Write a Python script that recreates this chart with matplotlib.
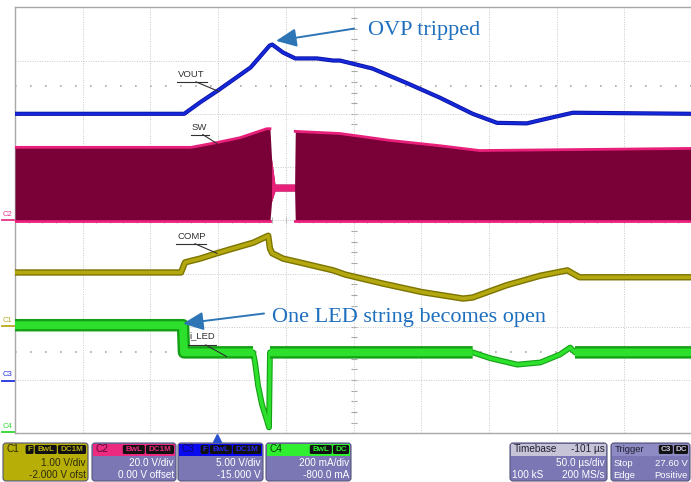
import numpy as np
import matplotlib
matplotlib.use("Agg")
import matplotlib.pyplot as plt
from matplotlib.patches import FancyBboxPatch, Rectangle

# 横軸: 時間 (µs, 50 µs/div x 10 div), 縦軸: 画面の div (0 = 下端, 8 = 上端)
T_MAX = 500
Y_DIVS = 8

# VOUT (C3)
vout_t = [0, 125, 137, 150, 174, 188, 190, 198, 207, 223, 235, 240, 264, 290, 314, 338, 356, 378, 393, 412, 500]
vout_v = [6.00, 6.00, 6.22, 6.44, 6.87, 7.28, 7.30, 7.15, 7.04, 7.04, 7.00, 7.00, 6.85, 6.57, 6.30, 6.00, 5.83, 5.82, 5.91, 6.02, 6.00]

# SW (C2) - スイッチング波形の包絡線
sw_t = [0, 130, 149, 166, 186, 188.3, 189.5, 192, 206.5, 207, 240, 277, 314, 343, 500]
sw_hi = [5.37, 5.37, 5.46, 5.55, 5.72, 5.72, 5.15, 4.68, 4.68, 5.67, 5.63, 5.50, 5.40, 5.31, 5.35]
sw_lo = [3.98, 3.98, 3.98, 3.98, 3.98, 3.98, 4.35, 4.55, 4.55, 3.98, 3.98, 3.98, 3.98, 3.98, 3.98]

# COMP (C1)
comp_t = [0, 122.6, 125.6, 136.6, 149, 161, 176, 187, 188.3, 190, 198, 210, 235, 244, 272, 301, 331, 338, 363, 388, 408, 412, 417, 500]
comp_v = [3.02, 3.02, 3.21, 3.28, 3.38, 3.47, 3.58, 3.71, 3.47, 3.38, 3.28, 3.21, 3.06, 2.98, 2.81, 2.65, 2.53, 2.55, 2.78, 2.96, 3.06, 3.00, 2.93, 2.93]

# i_LED (C4)
iled_t = [0, 124.1, 124.8, 175.8, 177.3, 179.5, 182.4, 186.1, 187.6, 188.3, 338, 351, 371, 388, 402.5, 410, 413.6, 500]
iled_v = [2.03, 2.03, 1.52, 1.52, 1.33, 0.90, 0.54, 0.24, 0.11, 1.52, 1.52, 1.41, 1.29, 1.33, 1.48, 1.61, 1.52, 1.52]

# 波形ラベル: (文字, テキスト位置, 引出線の終点)
trace_labels = [
    ("VOUT", (120.4, 6.74), (150.5, 6.42)),
    ("SW", (130.7, 5.75), (149.2, 5.44)),
    ("COMP", (119.7, 3.70), (149.2, 3.38)),
    ("i_LED", (128.5, 1.84), (156.4, 1.44)),
]

BLUE = "#1428d8"
SW_FILL = "#7a0038"
SW_EDGE = "#e8207a"
OLIVE = "#b4a810"
OLIVE_D = "#7c7400"
GREEN = "#2ee02e"
GREEN_D = "#14a014"
NOTE = "#1f6fbf"
ARROW = "#2e75b6"
GRID = "#c8c8c8"
LAVENDER = "#7b77b5"

fig = plt.figure(figsize=(6.91, 4.82), dpi=100)
fig.patch.set_facecolor("white")

ax = fig.add_axes([15 / 691, (482 - 433.3) / 482, 677 / 691, 426 / 482])
ax.set_xlim(0, T_MAX)
ax.set_ylim(0, Y_DIVS)
ax.set_xticks(np.arange(0, T_MAX + 1, 50))
ax.set_yticks(np.arange(0, Y_DIVS + 1, 1))
ax.tick_params(length=0, labelbottom=False, labelleft=False)
ax.grid(color=GRID, lw=0.7, ls=(0, (1, 1.5)))
for s in ax.spines.values():
    s.set_color("#a8a8a8")
    s.set_linewidth(1.0)

# 中心線の目盛り
ax.plot(np.full(41, 250), np.linspace(0, 8, 41), ls="none", marker="_", ms=5,
        mew=0.8, color="#a8a8a8", zorder=1)
ax.plot(np.arange(0, 501, 10), np.full(51, 4.0), ls="none", marker="|", ms=4,
        mew=0.8, color="#b8b8b8", zorder=1)
# トリガレベルなどの点線
ax.axhline(6.52, ls=(0, (1, 8)), lw=1.2, color="#a8a8a8", zorder=1)
ax.axhline(1.52, ls=(0, (1, 8)), lw=1.2, color="#a8a8a8", zorder=1)

# SW
sw_t_a = np.array(sw_t)
narrow = (sw_t_a >= 189.5) & (sw_t_a <= 206.5)
ax.fill_between(sw_t, sw_lo, sw_hi, color=SW_FILL, lw=0, zorder=3)
ax.fill_between(sw_t, sw_lo, sw_hi, where=narrow, color=SW_EDGE, lw=0, zorder=3)
left = sw_t_a <= 188.3
right = sw_t_a >= 207
for part in (left, right):
    ax.plot(sw_t_a[part], np.array(sw_hi)[part], color=SW_EDGE, lw=2.0, zorder=4)
    ax.plot(sw_t_a[part], np.array(sw_lo)[part], color=SW_EDGE, lw=2.0, zorder=4)

# VOUT
ax.plot(vout_t, vout_v, color="#0a10a0", lw=3.0, zorder=5)
ax.plot(vout_t, vout_v, color=BLUE, lw=1.9, zorder=5)

# COMP
ax.plot(comp_t, comp_v, color=OLIVE_D, lw=4.6, zorder=5)
ax.plot(comp_t, comp_v, color=OLIVE, lw=2.6, zorder=5)

# i_LED (ノイズのある区間は太く)
iled_t_a = np.array(iled_t)
iled_v_a = np.array(iled_v)
noisy = (iled_t_a <= 175.8) | ((iled_t_a >= 188.3) & (iled_t_a <= 338)) | (iled_t_a >= 413.6)
ax.plot(iled_t, iled_v, color=GREEN_D, lw=4.2, zorder=5)
ax.plot(iled_t, iled_v, color=GREEN, lw=2.6, zorder=5)
noisy_v = np.where(noisy, iled_v_a, np.nan)
ax.plot(iled_t, noisy_v, color=GREEN_D, lw=9.0, zorder=5, solid_capstyle="butt")
ax.plot(iled_t, noisy_v, color=GREEN, lw=5.6, zorder=5, solid_capstyle="butt")

# 波形ラベル
label_w = {"VOUT": 21.4, "SW": 12.9, "COMP": 21.3, "i_LED": 20.0}
for name, (tx, ty), (ex, ey) in trace_labels:
    ax.text(tx, ty, name, fontsize=6.8, family="Liberation Sans",
            color="#303030", va="center", ha="left", zorder=8)
    w = label_w[name]
    uy = ty - (0.18 if "_" in name else 0.14)
    ax.plot([tx - 1, tx + w], [uy, uy], color="#303030", lw=0.8, zorder=6)
    ax.plot([tx + w * 0.62, ex], [uy, ey], color="#303030", lw=0.8, zorder=6)

# 注記
arrow_kw = dict(arrowstyle="-|>,head_length=0.62,head_width=0.28",
                mutation_scale=20, color=ARROW, lw=1.4, shrinkA=0, shrinkB=0)
ax.annotate("", xy=(192.8, 7.37), xytext=(250.5, 7.60), arrowprops=arrow_kw, zorder=7)
ax.text(260.5, 7.56, "OVP tripped", family="Liberation Serif", fontsize=16,
        color=NOTE, va="center", ha="left", zorder=7)
ax.annotate("", xy=(124.1, 2.06), xytext=(183.9, 2.25), arrowprops=arrow_kw, zorder=7)
ax.text(189.8, 2.17, "One LED string becomes open", family="Liberation Serif",
        fontsize=16, color=NOTE, va="center", ha="left", zorder=7)

# ---- 画面下部の UI (ピクセル座標) ----
ui = fig.add_axes([0, 0, 1, 1])
ui.set_xlim(0, 691)
ui.set_ylim(482, 0)
ui.axis("off")
ui.patch.set_alpha(0)
ui.set_zorder(3)

# 左端のチャンネルマーカー
for name, y, col in [("C2", 220, "#e8308a"), ("C1", 326, "#b8a820"),
                     ("C3", 381, "#2030e0"), ("C4", 432, "#30d830")]:
    ui.text(3, y - 2.5, name, fontsize=5.5, family="Liberation Sans",
            color=col, va="bottom", ha="left")
    ui.plot([2, 14], [y, y], color=col, lw=1.3)

# トリガ位置マーカー
ui.plot([217], [437.5], marker="^", ms=5.5, color="#2850d0", ls="none")

FONT = "Liberation Sans"


def scope_box(x0, x1, body, header, title, title_color, chips, chip_text,
              rows, row_color, right_title=None, left_rows=(), size=7.2):
    y0, y1, yh = 443, 481, 455.5
    ui.add_patch(FancyBboxPatch((x0, y0), x1 - x0, y1 - y0,
                                boxstyle="round,pad=0,rounding_size=3",
                                fc=body, ec="#55557a", lw=0.8))
    if header is not None:
        ui.add_patch(Rectangle((x0 + 0.8, y0 + 0.8), x1 - x0 - 1.6, yh - y0 - 0.8,
                               fc=header, ec="none"))
    ui.text(x0 + 4, 449.5, title, fontsize=size, family=FONT, color=title_color,
            va="center", ha="left")
    if right_title:
        ui.text(x1 - 2, 449.5, right_title, fontsize=size, family=FONT,
                color=title_color, va="center", ha="right")
    cx = x1 - 2
    for label, w in reversed(chips):
        ui.add_patch(FancyBboxPatch((cx - w, 445), w, 9,
                                    boxstyle="round,pad=0,rounding_size=1.5",
                                    fc="#111111", ec="none"))
        ui.text(cx - w / 2, 449.7, label, fontsize=5.8, family=FONT,
                weight="bold", color=chip_text, va="center", ha="center")
        cx -= w + 1.2
    for row, y in zip(rows, (463, 475)):
        if row:
            ui.text(x1 - 2, y, row, fontsize=size, family=FONT, color=row_color,
                    va="center", ha="right")
    for row, y in zip(left_rows, (463, 475)):
        if row:
            ui.text(x0 + 2.5, y, row, fontsize=size, family=FONT, color=row_color,
                    va="center", ha="left")


scope_box(3, 88, "#b8ae08", None, "C1", "#2a2a00",
          [("F", 8), ("BwL", 22), ("DC1M", 28)], "#b8ae08",
          ["1.00 V/div", "-2.000 V ofst"], "#2a2a10")
scope_box(92, 176, LAVENDER, "#ec2a80", "C2", "#5a0a30",
          [("BwL", 22), ("DC1M", 28)], "#ec2a80",
          ["20.0 V/div", "0.00 V offset"], "white")
scope_box(178, 263, LAVENDER, "#0a0af0", "C3", "#0a0a60",
          [("F", 8), ("BwL", 22), ("DC1M", 28)], "#2a2af0",
          ["5.00 V/div", "-15.000 V"], "white")
scope_box(266, 351, LAVENDER, "#30ee30", "C4", "#0a3a0a",
          [("BwL", 22), ("DC", 16)], "#30ee30",
          ["200 mA/div", "-800.0 mA"], "white")
scope_box(510, 607, LAVENDER, "#c6c4d6", "Timebase", "#202030", [], "white",
          ["50.0 µs/div", "200 MS/s"], "white", right_title="-101 µs",
          left_rows=["", "100 kS"])
scope_box(611, 690, LAVENDER, "#8e8ac4", "Trigger", "#202030",
          [("C3", 14), ("DC", 14)], "#c8c6e0",
          ["27.60 V", "Positive"], "white", left_rows=["Stop", "Edge"], size=6.8)

fig.savefig("out.png", dpi=100, facecolor="white")
